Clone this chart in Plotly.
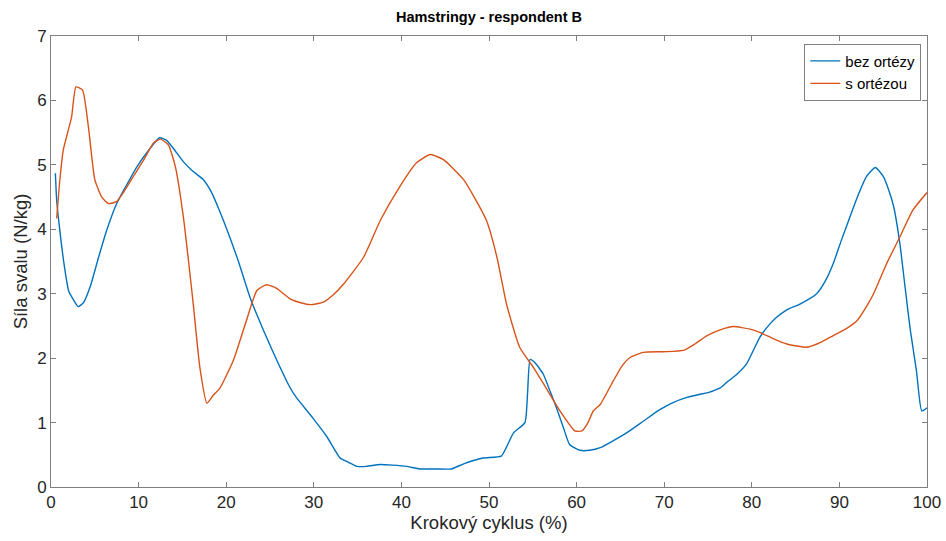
import plotly.graph_objects as go

# bez ortézy (blue)
x_bez = [0.5, 0.65, 1.0, 1.5, 2.0, 2.5, 3.1, 3.7, 4.5, 5.4, 6.35, 7.5, 8.6, 9.8, 11.0, 12.4, 13.2, 14.0, 15.1, 16.2, 17.4, 18.3, 19.2, 20.1, 21.4, 22.7, 24.2, 25.8, 27.3, 28.0, 29.9, 31.5, 33.0, 34.0, 34.9, 36.0, 37.6, 39.0, 40.6, 42.1, 44.0, 45.7, 47.1, 49.3, 51.4, 52.0, 52.8, 54.1, 54.4, 54.7, 55.3, 56.2, 56.8, 57.7, 58.5, 59.2, 60.4, 61.5, 62.7, 64.2, 65.7, 67.6, 69.5, 71.0, 72.6, 74.1, 74.9, 76.4, 77.1, 78.3, 79.4, 80.9, 82.0, 82.8, 84.0, 85.5, 87.4, 88.4, 89.3, 90.2, 91.2, 92.2, 93.1, 94.1, 95.0, 95.6, 96.2, 96.9, 97.5, 98.1, 98.8, 99.4, 100.0]
y_bez = [4.87, 4.45, 3.99, 3.45, 3.05, 2.92, 2.80, 2.86, 3.12, 3.55, 3.98, 4.40, 4.68, 4.97, 5.20, 5.42, 5.38, 5.25, 5.05, 4.90, 4.77, 4.58, 4.30, 3.99, 3.50, 2.95, 2.45, 1.96, 1.54, 1.39, 1.07, 0.78, 0.45, 0.38, 0.32, 0.32, 0.35, 0.34, 0.32, 0.28, 0.28, 0.28, 0.36, 0.45, 0.48, 0.62, 0.84, 1.00, 1.45, 1.98, 1.92, 1.75, 1.55, 1.23, 0.92, 0.66, 0.57, 0.57, 0.61, 0.72, 0.84, 1.02, 1.20, 1.31, 1.39, 1.44, 1.46, 1.54, 1.62, 1.75, 1.91, 2.32, 2.52, 2.63, 2.75, 2.84, 3.00, 3.20, 3.47, 3.82, 4.19, 4.55, 4.82, 4.96, 4.82, 4.62, 4.35, 3.78, 3.10, 2.43, 1.80, 1.18, 1.23]

# s ortézou (orange)
x_s = [0.65, 1.0, 1.4, 1.9, 2.36, 2.85, 3.6, 4.26, 5.0, 5.8, 6.54, 7.5, 8.4, 9.4, 10.6, 11.7, 12.5, 13.4, 14.2, 15.1, 16.2, 17.0, 17.8, 18.5, 19.3, 20.8, 22.3, 23.5, 24.6, 25.8, 27.3, 28.5, 29.6, 31.1, 32.2, 33.4, 35.7, 37.6, 39.8, 41.7, 43.3, 44.8, 47.1, 49.7, 50.9, 52.0, 53.5, 55.1, 56.6, 58.1, 59.8, 60.6, 61.3, 61.9, 62.7, 64.2, 65.2, 66.1, 67.6, 69.9, 72.2, 73.5, 74.9, 76.4, 77.9, 79.8, 80.9, 82.5, 84.0, 86.3, 87.8, 89.3, 90.7, 92.0, 93.0, 93.9, 95.4, 96.9, 98.4, 100.0]
y_s = [4.17, 4.75, 5.23, 5.50, 5.75, 6.21, 6.16, 5.60, 4.77, 4.50, 4.40, 4.43, 4.60, 4.82, 5.08, 5.34, 5.40, 5.31, 4.97, 4.20, 2.89, 1.85, 1.30, 1.42, 1.54, 1.96, 2.58, 3.05, 3.14, 3.08, 2.92, 2.86, 2.83, 2.87, 2.98, 3.15, 3.57, 4.14, 4.66, 5.03, 5.16, 5.08, 4.77, 4.14, 3.57, 2.84, 2.17, 1.85, 1.52, 1.18, 0.87, 0.87, 1.00, 1.18, 1.28, 1.65, 1.88, 2.01, 2.09, 2.10, 2.12, 2.22, 2.35, 2.44, 2.49, 2.45, 2.40, 2.30, 2.22, 2.17, 2.24, 2.35, 2.45, 2.58, 2.78, 3.00, 3.47, 3.88, 4.30, 4.57]

x_ticks = [0, 10, 20, 30, 40, 50, 60, 70, 80, 90, 100]
y_ticks = [0, 1, 2, 3, 4, 5, 6, 7]

FONT = "Liberation Sans, Arial, sans-serif"

fig = go.Figure()
fig.add_trace(go.Scatter(x=x_bez, y=y_bez, mode="lines", name="bez ortézy",
                         line=dict(color="#0072BD", width=1.4, shape="spline", smoothing=0.5)))
fig.add_trace(go.Scatter(x=x_s, y=y_s, mode="lines", name="s ortézou",
                         line=dict(color="#D95319", width=1.4, shape="spline", smoothing=0.5)))

axis_common = dict(showline=True, mirror="ticks", linecolor="#7f7f7f", linewidth=1,
                   ticks="inside", ticklen=5, tickcolor="#7f7f7f", showgrid=False,
                   zeroline=False, automargin=False,
                   tickfont=dict(family=FONT, size=17, color="#262626"))

fig.update_layout(
    width=946, height=541, autosize=False,
    margin=dict(l=51, r=19, t=36, b=54, autoexpand=False),
    plot_bgcolor="white", paper_bgcolor="white",
    title=dict(text="<b>Hamstringy - respondent B</b>", xref="paper", x=0.5, xanchor="center",
               yref="container", y=1 - 17 / 541, yanchor="middle", automargin=False,
               font=dict(family=FONT, size=14.5, color="#000000")),
    xaxis=dict(range=[0, 100], tickvals=x_ticks,
               title=dict(text="Krokový cyklus (%)", standoff=2,
                          font=dict(family=FONT, size=18.5, color="#262626")),
               **axis_common),
    yaxis=dict(range=[0, 7], tickvals=y_ticks,
               title=dict(text="Síla svalu (N/kg)", standoff=4,
                          font=dict(family=FONT, size=18.5, color="#262626")),
               **axis_common),
    legend=dict(x=0.9935, xanchor="right", y=0.983, yanchor="top",
                bordercolor="#7f7f7f", borderwidth=1, bgcolor="white",
                font=dict(family=FONT, size=15, color="#000000"),
                tracegroupgap=0, itemwidth=30),
    showlegend=True,
)

fig.write_html("out.html", config={"displayModeBar": False})

# remove default browser page margin so the figure sits at (0,0)
with open("out.html", "r", encoding="utf-8") as f:
    html = f.read()
html = html.replace("<head>", "<head><style>html,body{margin:0;padding:0;overflow:hidden;}</style>", 1)
with open("out.html", "w", encoding="utf-8") as f:
    f.write(html)
